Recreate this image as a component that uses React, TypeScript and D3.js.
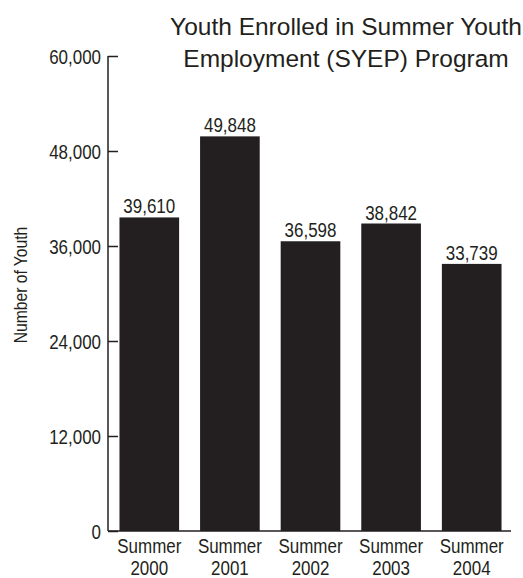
import React, { useEffect, useRef } from "react";
import * as d3 from "d3";

const categories = ["Summer 2000", "Summer 2001", "Summer 2002", "Summer 2003", "Summer 2004"];
const values = [39610, 49848, 36598, 38842, 33739];
const yTicks = [0, 12000, 24000, 36000, 48000, 60000];
const titleLines = ["Youth Enrolled in Summer Youth", "Employment (SYEP) Program"];
const yTitle = "Number of Youth";

const W = 523;
const H = 578;
const INK = "#231f20";
const SANS = "'Liberation Sans', Arial, sans-serif";
const SX = 0.87; // horizontal condensing for the narrow labels
const FS = 19.5;

export default function App() {
  const ref = useRef<SVGSVGElement>(null);

  useEffect(() => {
    const svg = d3.select(ref.current);
    svg.selectAll("*").remove();

    const x0 = 108, x1 = 511, yTop = 56, yBot = 531;
    const x = d3.scaleBand<string>().domain(categories).range([x0 + 1, x1 + 1]).paddingInner(0.26).paddingOuter(0.13);
    const y = d3.scaleLinear().domain([0, 60000]).range([yBot, yTop]);

    // bars
    svg.append("g").selectAll("rect").data(values).join("rect")
      .attr("x", (_, i) => x(categories[i])!)
      .attr("width", x.bandwidth())
      .attr("y", d => y(d))
      .attr("height", d => yBot - y(d))
      .attr("fill", INK);

    // bar labels
    svg.append("g").selectAll("text").data(values).join("text")
      .attr("transform", (d, i) => `translate(${x(categories[i])! + x.bandwidth() / 2},${y(d) - 4}) scale(${SX},1)`)
      .attr("text-anchor", "middle")
      .attr("font-family", SANS)
      .attr("font-size", FS)
      .attr("fill", INK)
      .text(d => d3.format(",")(d));

    // y axis
    const yAxis = d3.axisLeft(y).tickValues(yTicks).tickFormat(d3.format(",") as any).tickSize(-10);
    const gy = svg.append("g").attr("transform", `translate(${x0},0)`).call(yAxis);
    gy.select(".domain").attr("stroke", INK).attr("stroke-width", 1.5).attr("d", `M0,${yTop}V${yBot}`);
    gy.selectAll(".tick line").attr("stroke", INK).attr("stroke-width", 1.5);
    gy.selectAll(".tick text")
      .attr("x", 0)
      .attr("dy", "0.4em")
      .attr("transform", `translate(-7,0) scale(${SX},1)`)
      .attr("font-family", SANS)
      .attr("font-size", FS)
      .attr("fill", INK);

    // x axis line
    svg.append("line").attr("x1", x0).attr("x2", x1).attr("y1", yBot).attr("y2", yBot)
      .attr("stroke", INK).attr("stroke-width", 1.5);

    // x labels
    const xl = svg.append("g").selectAll("text").data(categories).join("text")
      .attr("transform", d => `translate(${x(d)! + x.bandwidth() / 2},0) scale(${SX},1)`)
      .attr("text-anchor", "middle")
      .attr("font-family", SANS)
      .attr("font-size", FS)
      .attr("fill", INK);
    xl.each(function (d) {
      const parts = d.split(" ");
      const t = d3.select(this);
      t.append("tspan").attr("x", 0).attr("y", 553).text(parts[0]);
      t.append("tspan").attr("x", 0).attr("y", 575).text(parts[1]);
    });

    // y title
    svg.append("text")
      .attr("transform", `translate(27,285) rotate(-90) scale(${SX},1)`)
      .attr("text-anchor", "middle")
      .attr("font-family", SANS)
      .attr("font-size", 18)
      .attr("fill", INK)
      .text(yTitle);

    // title
    svg.append("g").selectAll("text").data(titleLines).join("text")
      .attr("x", 346)
      .attr("y", (_, i) => 35 + i * 32)
      .attr("text-anchor", "middle")
      .attr("font-family", SANS)
      .attr("font-size", 24.5)
      .attr("fill", INK)
      .text(d => d);
  }, []);

  return (
    <svg ref={ref} width={W} height={H} style={{ position: "absolute", left: 0, top: 0, background: "#fff" }} />
  );
}
